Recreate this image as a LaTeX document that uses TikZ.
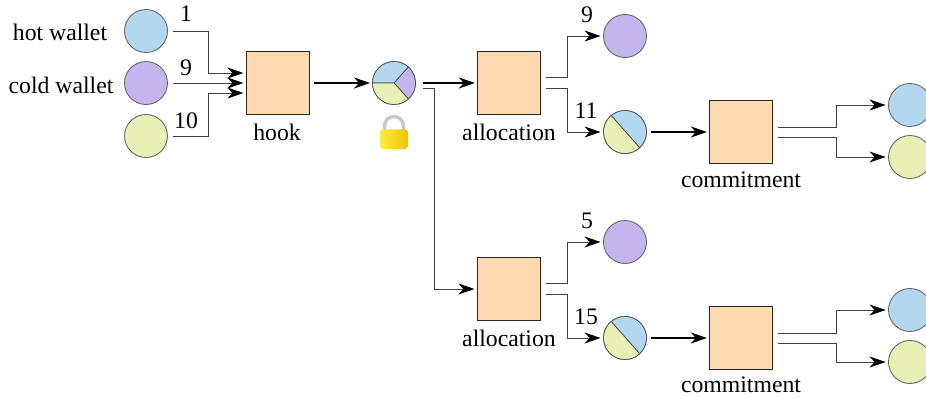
\documentclass[tikz,border=0pt]{standalone}
\usepackage{fontspec}
\setmainfont{Liberation Serif}
\usetikzlibrary{arrows.meta}
\definecolor{walletblue}{HTML}{B2D7EF}
\definecolor{walletpurple}{HTML}{C4B5EE}
\definecolor{walletgreen}{HTML}{E8F0B6}
\definecolor{boxorange}{HTML}{FFDAB1}
\definecolor{lockbright}{HTML}{FFEC3A}
\definecolor{lockdark}{HTML}{E9C400}

\begin{document}
\begin{tikzpicture}[font=\fontsize{13.5}{16}\selectfont,
    wallet/.style={circle,draw=black!60,line width=0.5pt,minimum size=0.86cm,inner sep=0pt},
    contract/.style={rectangle,draw=black!85,line width=0.7pt,fill=boxorange,minimum size=1.26cm,inner sep=0pt},
    tag/.style={inner sep=0pt,anchor=center},
    link/.style={draw=black!75,line width=0.55pt,-{Stealth[length=0.32cm,width=0.22cm,inset=0.1cm,black]},shorten <=0.1cm,shorten >=0.05cm},
    flow/.style={link,draw=black,line width=1.2pt,shorten <=0.08cm,shorten >=0.04cm},
    elbow/.style={to path={-- ++(#1,0) |- (\tikztotarget)}}]
      \useasboundingbox (0, 0) rectangle (18.52, 7.96);

      \node[wallet,fill=walletblue]   (hot)   at (2.92, 7.34) {};
      \node[wallet,fill=walletpurple] (cold)  at (2.92, 6.30) {};
      \node[wallet,fill=walletgreen]  (third) at (2.92, 5.24) {};

      \node[contract] (hook)   at (5.56, 6.30) {};
      \node[contract] (alloca) at (10.18, 6.30) {};
      \node[contract] (allocb) at (10.18, 2.18) {};
      \node[contract] (commita) at (14.82, 5.32) {};
      \node[contract] (commitb) at (14.82, 1.20) {};

      \node[wallet] (pie)    at (7.88, 6.30) {};
      \node[wallet] (splita) at (12.50, 5.32) {};
      \node[wallet] (splitb) at (12.50, 1.20) {};

      % pie slices
      \filldraw[fill=walletblue,draw=black!70,line width=0.4pt] (pie.center) -- ++(180:0.43cm) arc (180:48:0.43cm) -- cycle;
      \filldraw[fill=walletpurple,draw=black!70,line width=0.4pt] (pie.center) -- ++(48:0.43cm) arc (48:-48:0.43cm) -- cycle;
      \filldraw[fill=walletgreen,draw=black!70,line width=0.4pt] (pie.center) -- ++(-48:0.43cm) arc (-48:-180:0.43cm) -- cycle;
      \filldraw[fill=walletblue,draw=black!70,line width=0.4pt] (splita.center) ++(130:0.43cm) arc (130:-47:0.43cm) -- cycle;
      \filldraw[fill=walletgreen,draw=black!70,line width=0.4pt] (splita.center) ++(-47:0.43cm) arc (-47:-230:0.43cm) -- cycle;
      \filldraw[fill=walletblue,draw=black!70,line width=0.4pt] (splitb.center) ++(130:0.43cm) arc (130:-47:0.43cm) -- cycle;
      \filldraw[fill=walletgreen,draw=black!70,line width=0.4pt] (splitb.center) ++(-47:0.43cm) arc (-47:-230:0.43cm) -- cycle;

      \node[wallet,fill=walletpurple] (outa) at (12.50, 7.24) {};
      \node[wallet,fill=walletpurple] (outb) at (12.50, 3.12) {};
      \node[wallet,fill=walletblue]  (enda) at (18.20, 5.86) {};
      \node[wallet,fill=walletgreen] (endb) at (18.20, 4.82) {};
      \node[wallet,fill=walletblue]  (endc) at (18.20, 1.76) {};
      \node[wallet,fill=walletgreen] (endd) at (18.20, 0.72) {};

      % lock
      \draw[black!22,line width=2pt] (7.69, 5.34) -- (7.69, 5.44) arc (180:0:0.19cm) -- (8.07, 5.34);
      \shade[left color=lockbright,right color=lockdark,rounded corners=0.06cm] (7.60, 4.98) rectangle (8.16, 5.37);

      \node[tag] (hotname)  at (1.20, 7.32) {hot wallet};
      \node[tag] (coldname) at (1.22, 6.26) {cold wallet};
      \node[tag] (hookname) at (5.54, 5.32) {hook};
      \node[tag] (allocaname) at (10.18, 5.31) {allocation};
      \node[tag] (allocbname) at (10.18, 1.19) {allocation};
      \node[tag] (commitaname) at (14.82, 4.37) {commitment};
      \node[tag] (commitbname) at (14.82, 0.26) {commitment};

      % amounts
      \node[tag] (hotnum)   at (3.72, 7.68) {1};
      \node[tag] (coldnum)  at (3.72, 6.60) {9};
      \node[tag] (thirdnum) at (3.72, 5.54) {10};
      \node[tag] (outanum)  at (11.74, 7.67) {9};
      \node[tag] (splitanum) at (11.72, 5.75) {11};
      \node[tag] (outbnum)  at (11.74, 3.55) {5};
      \node[tag] (splitbnum) at (11.72, 1.63) {15};

      \draw[link] (hot.east) to[elbow=0.82] ([yshift=0.2cm]hook.west);
      \draw[link] (cold.east) -- (hook.west);
      \draw[link] (third.east) to[elbow=0.82] ([yshift=-0.2cm]hook.west);

      \draw[flow] (hook) -- (pie);
      \draw[flow,shorten <=0.14cm] (pie) -- (alloca);
      \draw[link,shorten <=0.14cm] ([yshift=-0.11cm]pie.east) to[elbow=0.38] (allocb.west);

      \draw[link] ([yshift=0.11cm]alloca.east) to[elbow=0.52] (outa.west);
      \draw[link] ([yshift=-0.11cm]alloca.east) to[elbow=0.52] (splita.west);
      \draw[link] ([yshift=0.11cm]allocb.east) to[elbow=0.52] (outb.west);
      \draw[link] ([yshift=-0.11cm]allocb.east) to[elbow=0.52] (splitb.west);

      \draw[flow] (splita) -- (commita);
      \draw[flow] (splitb) -- (commitb);

      \draw[link] ([yshift=0.1cm]commita.east) to[elbow=1.26] (enda.west);
      \draw[link] ([yshift=-0.1cm]commita.east) to[elbow=1.26] (endb.west);
      \draw[link] ([yshift=0.1cm]commitb.east) to[elbow=1.26] (endc.west);
      \draw[link] ([yshift=-0.1cm]commitb.east) to[elbow=1.26] (endd.west);
    \end{tikzpicture}
\end{document}
